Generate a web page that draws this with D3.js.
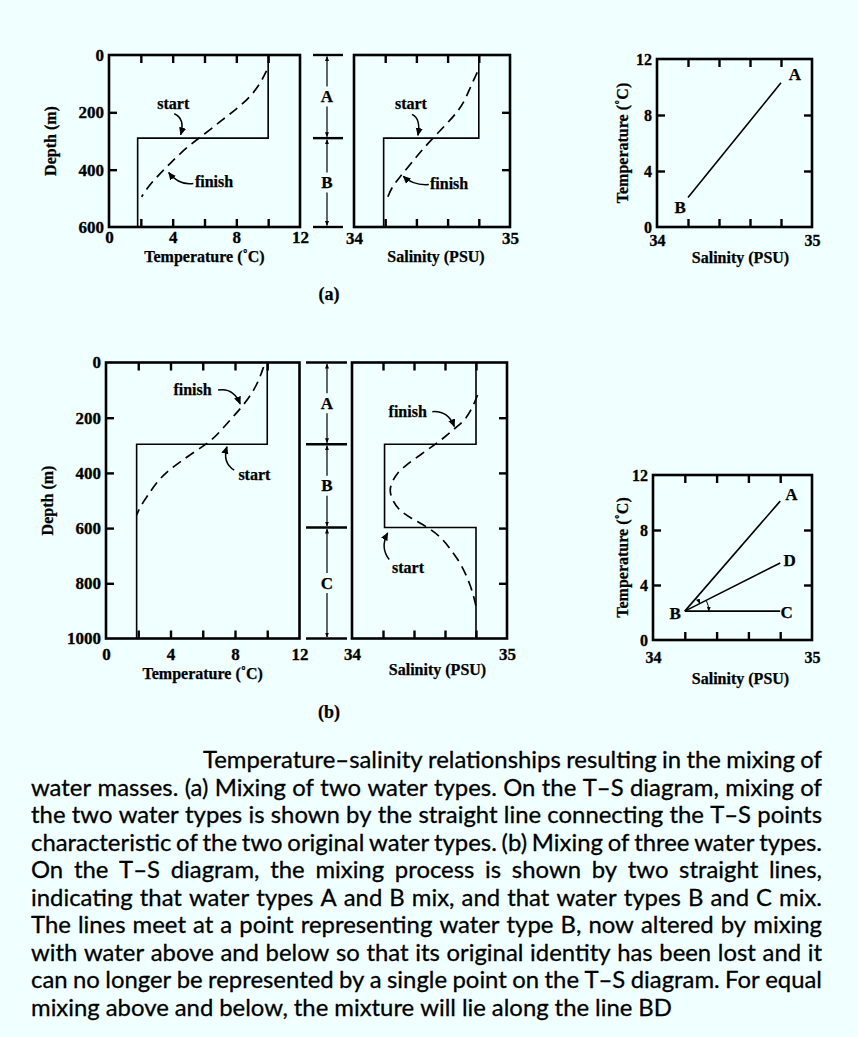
<!DOCTYPE html>
<html><head><meta charset="utf-8">
<script src="https://cdn.jsdelivr.net/npm/d3@7"></script>
<style>html,body{margin:0;padding:0;background:#f0ffff;} svg{display:block}</style>
</head><body><script>
// ---------------- DATA ----------------
const tempMinorTicks = [2, 4, 6, 8, 10];
const tempTickLabels = [0, 4, 8, 12];
const salMinorTicks = [34.2, 34.4, 34.6, 34.8];
const salTickLabels = [34, 35];
const depthTickLabelsA = [0, 200, 400, 600];
const depthMinorTicksA = [200, 400];
const depthTickLabelsB = [0, 200, 400, 600, 800, 1000];
const depthMinorTicksB = [200, 400, 600, 800];
const tsTempTickLabels = [0, 4, 8, 12];
const tsTempMinorTicks = [4, 8];

// (a) profiles: d = depth (m), v = value
const startTempA = [{d:0,v:10},{d:290,v:10},{d:290,v:1.8},{d:600,v:1.8}];
const finishTempA = [{d:55,v:9.9},{d:101,v:9.49},{d:147,v:8.86},{d:188,v:8.02},{d:228,v:7.08},{d:275,v:6.03},{d:321,v:4.88},{d:379,v:3.83},{d:425,v:3.0},{d:466,v:2.37},{d:495,v:2.05}];
const startSalA = [{d:0,v:34.8},{d:290,v:34.8},{d:290,v:34.19},{d:600,v:34.19}];
const finishSalA = [{d:61,v:34.79},{d:107,v:34.75},{d:160,v:34.71},{d:201,v:34.66},{d:242,v:34.59},{d:288,v:34.51},{d:335,v:34.43},{d:382,v:34.36},{d:428,v:34.29},{d:463,v:34.24},{d:504,v:34.21}];
const layersA = [{name:"A",top:0,bottom:290},{name:"B",top:290,bottom:600}];
const tsLineA = [{s:34.2,t:2.1},{s:34.8,t:10.3}];
const tsLabelsA = [{name:"A",s:34.89,t:10.5},{name:"B",s:34.15,t:1.0}];

// (b) profiles
const startTempB = [{d:0,v:10},{d:296,v:10},{d:296,v:1.9},{d:1000,v:1.9}];
const finishTempB = [{d:16,v:9.77},{d:52,v:9.56},{d:100,v:9.19},{d:155,v:8.52},{d:195,v:7.9},{d:243,v:7.18},{d:282,v:6.56},{d:318,v:5.63},{d:360,v:4.59},{d:396,v:3.77},{d:433,v:3.15},{d:487,v:2.53},{d:523,v:2.11},{d:553,v:1.9}];
const startSalB = [{d:0,v:34.8},{d:296,v:34.8},{d:296,v:34.21},{d:598,v:34.21},{d:598,v:34.8},{d:1000,v:34.8}];
const finishSalB = [{d:118,v:34.81},{d:160,v:34.78},{d:209,v:34.73},{d:235,v:34.67},{d:270,v:34.60},{d:299,v:34.53},{d:335,v:34.44},{d:371,v:34.35},{d:401,v:34.29},{d:431,v:34.26},{d:462,v:34.24},{d:498,v:34.26},{d:534,v:34.30},{d:564,v:34.38},{d:594,v:34.48},{d:630,v:34.57},{d:672,v:34.63},{d:726,v:34.70},{d:787,v:34.75},{d:835,v:34.78},{d:883,v:34.80}];
const layersB = [{name:"A",top:0,bottom:296},{name:"B",top:296,bottom:598},{name:"C",top:598,bottom:1000}];
const tsPointsB = {A:{s:34.8,t:10.1}, B:{s:34.2,t:2.1}, C:{s:34.8,t:2.1}, D:{s:34.8,t:5.6}};
const tsSegmentsB = [["B","A"],["B","D"],["B","C"]];
const tsLabelsB = [{name:"A",s:34.87,t:10.2},{name:"D",s:34.86,t:5.4},{name:"C",s:34.84,t:1.58},{name:"B",s:34.14,t:1.5}];

// annotations (data units of each panel): label + curved arrow (from, ctrl, to)
const annTempA = [
  {text:"start", anchor:"middle", v:4.04, d:187, from:{v:4.1,d:205}, ctrl:{v:4.8,d:222}, to:{v:4.5,d:278}},
  {text:"finish", anchor:"start", v:5.4, d:460, from:{v:5.3,d:448}, ctrl:{v:4.4,d:456}, to:{v:3.75,d:410}}
];
const annSalA = [
  {text:"start", anchor:"middle", v:34.365, d:189, from:{v:34.372,d:207}, ctrl:{v:34.43,d:222}, to:{v:34.41,d:280}},
  {text:"finish", anchor:"start", v:34.487, d:469, from:{v:34.48,d:452}, ctrl:{v:34.38,d:456}, to:{v:34.316,d:423}}
];
const annTempB = [
  {text:"finish", anchor:"start", v:4.18, d:118, from:{v:6.95,d:100}, ctrl:{v:7.9,d:90}, to:{v:8.32,d:150}},
  {text:"start", anchor:"start", v:8.21, d:426, from:{v:7.95,d:390}, ctrl:{v:7.2,d:362}, to:{v:7.5,d:305}}
];
const annSalB = [
  {text:"finish", anchor:"start", v:34.236, d:197, from:{v:34.518,d:178}, ctrl:{v:34.62,d:174}, to:{v:34.66,d:232}},
  {text:"start", anchor:"start", v:34.258, d:763, from:{v:34.24,d:714}, ctrl:{v:34.18,d:670}, to:{v:34.23,d:618}}
];

const captionLines = [
  "Temperature\u2013salinity relationships resulting in the mixing of",
  "water masses. (a) Mixing of two water types. On the T\u2013S diagram, mixing of",
  "the two water types is shown by the straight line connecting the T\u2013S points",
  "characteristic of the two original water types. (b) Mixing of three water types.",
  "On the T\u2013S diagram, the mixing process is shown by two straight lines,",
  "indicating that water types A and B mix, and that water types B and C mix.",
  "The lines meet at a point representing water type B, now altered by mixing",
  "with water above and below so that its original identity has been lost and it",
  "can no longer be represented by a single point on the T\u2013S diagram. For equal",
  "mixing above and below, the mixture will lie along the line BD"
];

// ---------------- LAYOUT ----------------
const W = 858, H = 1037;
const SERIF = "'Liberation Serif','Times New Roman',serif";
const svg = d3.select("body").append("svg").attr("width", W).attr("height", H);
svg.append("rect").attr("width", W).attr("height", H).attr("fill", "#f0ffff");

const defs = svg.append("defs");
defs.append("marker").attr("id","ah").attr("viewBox","0 0 10 10").attr("refX",9).attr("refY",5)
  .attr("markerWidth",8).attr("markerHeight",8).attr("markerUnits","userSpaceOnUse").attr("orient","auto")
  .append("path").attr("d","M0,0.5 L10,5 L0,9.5 Z").attr("fill","#000");
defs.append("marker").attr("id","ahs").attr("viewBox","0 0 10 10").attr("refX",9).attr("refY",5)
  .attr("markerWidth",5).attr("markerHeight",6).attr("markerUnits","userSpaceOnUse").attr("orient","auto")
  .append("path").attr("d","M0,1 L10,5 L0,9 Z").attr("fill","#000");

function styleAxis(g, size) {
  g.select(".domain").remove();
  g.attr("font-family", SERIF).attr("font-size", size).attr("font-weight", "bold");
  g.selectAll(".tick line").attr("stroke","#000").attr("stroke-width",2.4);
  g.selectAll(".tick text").attr("fill","#000").attr("stroke","#000").attr("stroke-width",0.3);
}
function serifText(sel, size) {
  return sel.attr("font-family",SERIF).attr("font-size",size).attr("font-weight","bold")
    .attr("fill","#000").attr("stroke","#000").attr("stroke-width",0.25);
}

function frame(box, xs, ys, spec) {
  const g = svg.append("g");
  const fsz = spec.labelSize || 17;
  g.append("rect").attr("x",box.l).attr("y",box.t).attr("width",box.r-box.l).attr("height",box.b-box.t)
    .attr("fill","none").attr("stroke","#000").attr("stroke-width",2.6);
  const tl = 8;
  g.append("g").attr("transform",`translate(0,${box.b})`)
    .call(d3.axisBottom(xs).tickValues(spec.xMinor).tickSizeInner(-tl).tickSizeOuter(0).tickFormat(""))
    .call(a=>styleAxis(a,fsz));
  g.append("g").attr("transform",`translate(0,${box.t})`)
    .call(d3.axisTop(xs).tickValues(spec.xMinor).tickSizeInner(-tl).tickSizeOuter(0).tickFormat(""))
    .call(a=>styleAxis(a,fsz));
  if (spec.yMinorLeft) g.append("g").attr("transform",`translate(${box.l},0)`)
    .call(d3.axisLeft(ys).tickValues(spec.yMinorLeft).tickSizeInner(-tl).tickSizeOuter(0).tickFormat(""))
    .call(a=>styleAxis(a,fsz));
  if (spec.yMinorRight) g.append("g").attr("transform",`translate(${box.r},0)`)
    .call(d3.axisRight(ys).tickValues(spec.yMinorRight).tickSizeInner(-tl).tickSizeOuter(0).tickFormat(""))
    .call(a=>styleAxis(a,fsz));
  // labels
  g.append("g").attr("transform",`translate(0,${box.b})`)
    .call(d3.axisBottom(xs).tickValues(spec.xLabels).tickSize(0).tickPadding(spec.xPad).tickFormat(d3.format("d")))
    .call(a=>styleAxis(a,fsz));
  if (spec.yLabels) g.append("g").attr("transform",`translate(${box.l},0)`)
    .call(d3.axisLeft(ys).tickValues(spec.yLabels).tickSize(0).tickPadding(5).tickFormat(d3.format("d")))
    .call(a=>styleAxis(a,fsz));
  // titles
  serifText(g.append("text"), 16).attr("x",(box.l+box.r)/2 + (spec.xTitleDx||0)).attr("y",spec.xTitleY)
    .attr("text-anchor","middle").text(spec.xTitle);
  if (spec.yTitle) serifText(g.append("text"), 16)
    .attr("transform",`translate(${spec.yTitleX},${(box.t+box.b)/2}) rotate(-90)`)
    .attr("text-anchor","middle").attr("dominant-baseline","central").text(spec.yTitle);
  return g;
}

function profile(g, data, xs, ys, dashed) {
  const line = d3.line().x(p=>xs(p.v)).y(p=>ys(p.d)).curve(dashed ? d3.curveBasis : d3.curveLinear);
  g.append("path").attr("d", line(data)).attr("fill","none").attr("stroke","#000")
    .attr("stroke-width", dashed ? 1.7 : 1.6)
    .attr("stroke-dasharray", dashed ? "10,6" : null);
}

function annotate(g, anns, xs, ys) {
  anns.forEach(a => {
    serifText(g.append("text"), 16).attr("x", xs(a.v)).attr("y", ys(a.d)).attr("text-anchor", a.anchor).text(a.text);
    const p = d3.path();
    p.moveTo(xs(a.from.v), ys(a.from.d));
    p.quadraticCurveTo(xs(a.ctrl.v), ys(a.ctrl.d), xs(a.to.v), ys(a.to.d));
    g.append("path").attr("d", p.toString()).attr("fill","none").attr("stroke","#000")
      .attr("stroke-width",1.5).attr("marker-end","url(#ah)");
  });
}

function layerColumn(layers, ys, xl, xr, xArrow) {
  const g = svg.append("g");
  const bounds = Array.from(new Set(layers.flatMap(l=>[l.top,l.bottom])));
  g.selectAll("line.b").data(bounds).join("line").attr("x1",xl).attr("x2",xr)
    .attr("y1",d=>ys(d)).attr("y2",d=>ys(d)).attr("stroke","#000").attr("stroke-width",2.4);
  layers.forEach(l => {
    const y0 = ys(l.top), y1 = ys(l.bottom), ym = (y0+y1)/2;
    serifText(g.append("text"), 17).attr("x",xArrow).attr("y",ym).attr("text-anchor","middle")
      .attr("dominant-baseline","central").text(l.name);
    g.append("line").attr("x1",xArrow).attr("x2",xArrow).attr("y1",ym-10).attr("y2",y0+1.5)
      .attr("stroke","#000").attr("stroke-width",1.2).attr("marker-end","url(#ahs)");
    g.append("line").attr("x1",xArrow).attr("x2",xArrow).attr("y1",ym+10).attr("y2",y1-1.5)
      .attr("stroke","#000").attr("stroke-width",1.2).attr("marker-end","url(#ahs)");
  });
}

// ---------- (a) ----------
const boxTA = {l:109, r:300, t:55, b:227};
const xTA = d3.scaleLinear().domain([0,12]).range([boxTA.l, boxTA.r]);
const yTA = d3.scaleLinear().domain([0,600]).range([boxTA.t, boxTA.b]);
const gTA = frame(boxTA, xTA, yTA, {xMinor:tempMinorTicks, xLabels:tempTickLabels, xPad:4,
  yMinorLeft:depthMinorTicksA, yLabels:depthTickLabelsA, xTitle:"Temperature (\u02DAC)", xTitleY:262,
  yTitle:"Depth (m)", yTitleX:boxTA.l-59});
profile(gTA, startTempA, xTA, yTA, false);
profile(gTA, finishTempA, xTA, yTA, true);
annotate(gTA, annTempA, xTA, yTA);

layerColumn(layersA, yTA, 313, 343, 327);

const boxSA = {l:354, r:510, t:55, b:227};
const xSA = d3.scaleLinear().domain([34,35]).range([boxSA.l, boxSA.r]);
const ySA = d3.scaleLinear().domain([0,600]).range([boxSA.t, boxSA.b]);
const gSA = frame(boxSA, xSA, ySA, {xMinor:salMinorTicks, xLabels:salTickLabels, xPad:5,
  yMinorRight:depthMinorTicksA, xTitle:"Salinity (PSU)", xTitleY:262, xTitleDx:4});
profile(gSA, startSalA, xSA, ySA, false);
profile(gSA, finishSalA, xSA, ySA, true);
annotate(gSA, annSalA, xSA, ySA);

const boxTSA = {l:657, r:812, t:59, b:227};
const xTSA = d3.scaleLinear().domain([34,35]).range([boxTSA.l, boxTSA.r]);
const yTSA = d3.scaleLinear().domain([0,12]).range([boxTSA.b, boxTSA.t]);
const gTSA = frame(boxTSA, xTSA, yTSA, {xMinor:salMinorTicks, xLabels:salTickLabels, xPad:8, labelSize:16,
  yMinorLeft:tsTempMinorTicks, yMinorRight:tsTempMinorTicks, yLabels:tsTempTickLabels,
  xTitle:"Salinity (PSU)", xTitleY:263, xTitleDx:6, yTitle:"Temperature (\u02DAC)", yTitleX:boxTSA.l-35});
gTSA.append("path").attr("d", d3.line().x(p=>xTSA(p.s)).y(p=>yTSA(p.t))(tsLineA))
  .attr("stroke","#000").attr("stroke-width",1.6).attr("fill","none");
tsLabelsA.forEach(d => serifText(gTSA.append("text"), 17).attr("x",xTSA(d.s)).attr("y",yTSA(d.t))
  .attr("text-anchor","middle").text(d.name));

serifText(svg.append("text"), 18).attr("x",329).attr("y",300).attr("text-anchor","middle").text("(a)");

// ---------- (b) ----------
const boxTB = {l:106, r:299.5, t:362.5, b:638.5};
const xTB = d3.scaleLinear().domain([0,12]).range([boxTB.l, boxTB.r]);
const yTB = d3.scaleLinear().domain([0,1000]).range([boxTB.t, boxTB.b]);
const gTB = frame(boxTB, xTB, yTB, {xMinor:tempMinorTicks, xLabels:tempTickLabels, xPad:9,
  yMinorLeft:depthMinorTicksB, yLabels:depthTickLabelsB, xTitle:"Temperature (\u02DAC)", xTitleY:679,
  yTitle:"Depth (m)", yTitleX:boxTB.l-59});
profile(gTB, startTempB, xTB, yTB, false);
profile(gTB, finishTempB, xTB, yTB, true);
annotate(gTB, annTempB, xTB, yTB);

layerColumn(layersB, yTB, 306, 347, 327);

const boxSB = {l:352, r:507, t:362.5, b:638.5};
const xSB = d3.scaleLinear().domain([34,35]).range([boxSB.l, boxSB.r]);
const ySB = d3.scaleLinear().domain([0,1000]).range([boxSB.t, boxSB.b]);
const gSB = frame(boxSB, xSB, ySB, {xMinor:salMinorTicks, xLabels:salTickLabels, xPad:9,
  yMinorRight:depthMinorTicksB, xTitle:"Salinity (PSU)", xTitleY:675, xTitleDx:8});
profile(gSB, startSalB, xSB, ySB, false);
profile(gSB, finishSalB, xSB, ySB, true);
annotate(gSB, annSalB, xSB, ySB);

const boxTSB = {l:653, r:812, t:475, b:640};
const xTSB = d3.scaleLinear().domain([34,35]).range([boxTSB.l, boxTSB.r]);
const yTSB = d3.scaleLinear().domain([0,12]).range([boxTSB.b, boxTSB.t]);
const gTSB = frame(boxTSB, xTSB, yTSB, {xMinor:salMinorTicks, xLabels:salTickLabels, xPad:12, labelSize:16,
  yMinorLeft:tsTempMinorTicks, yMinorRight:tsTempMinorTicks, yLabels:tsTempTickLabels,
  xTitle:"Salinity (PSU)", xTitleY:684, xTitleDx:8, yTitle:"Temperature (\u02DAC)", yTitleX:boxTSB.l-31});
tsSegmentsB.forEach(([a,b]) => {
  gTSB.append("line").attr("x1",xTSB(tsPointsB[a].s)).attr("y1",yTSB(tsPointsB[a].t))
    .attr("x2",xTSB(tsPointsB[b].s)).attr("y2",yTSB(tsPointsB[b].t)).attr("stroke","#000").attr("stroke-width",1.6);
});
tsLabelsB.forEach(d => serifText(gTSB.append("text"), 17).attr("x",xTSB(d.s)).attr("y",yTSB(d.t))
  .attr("text-anchor","middle").text(d.name));
// small rotation arcs around B
(function(){
  const B = tsPointsB.B;
  const bx = xTSB(B.s), by = yTSB(B.t);
  const ang = k => Math.atan2(yTSB(tsPointsB[k].t)-by, xTSB(tsPointsB[k].s)-bx);
  [[ "A","D",17],["D","C",24]].forEach(([k1,k2,r]) => {
    const a1 = ang(k1), a2 = ang(k2);
    const p = d3.path();
    p.moveTo(bx + r*Math.cos(a1), by + r*Math.sin(a1));
    p.arc(bx, by, r, a1, a2, false);
    gTSB.append("path").attr("d", p.toString()).attr("fill","none").attr("stroke","#000")
      .attr("stroke-width",1).attr("marker-end","url(#ahs)");
  });
})();

serifText(svg.append("text"), 18).attr("x",329).attr("y",718).attr("text-anchor","middle").text("(b)");

// ---------- caption ----------
const SANS = "Lato,'Open Sans',sans-serif";
const cap = svg.append("g").attr("font-family",SANS).attr("fill","#000").attr("stroke","#000").attr("stroke-width",0.3);
const capLeft = 31, capRight = 822, firstIndent = 203, capBase = 768, lineGap = 27.55;
const meas = cap.append("text").attr("font-size",20).attr("x",-1000).attr("y",-1000);
function wordsWidth(line){ return d3.sum(line.split(" "), w => { meas.text(w); return meas.node().getComputedTextLength(); }); }
let capFs = 100;
captionLines.forEach((ln,i) => {
  if (i === captionLines.length-1) return;
  const n = ln.split(" ").length;
  const target = (i===0 ? capRight-firstIndent : capRight-capLeft);
  capFs = Math.min(capFs, target / (wordsWidth(ln)/20 + 0.2*(n-1)));
});
meas.remove();
cap.attr("font-size", capFs.toFixed(2));
captionLines.forEach((ln,i) => {
  const words = ln.split(" ");
  const y = capBase + i*lineGap;
  const x0 = i===0 ? firstIndent : capLeft;
  const nodes = words.map(w => cap.append("text").attr("y", y).text(w));
  const widths = nodes.map(n => n.node().getComputedTextLength());
  const last = i === captionLines.length-1;
  const gap = last ? capFs*0.25 : (capRight - x0 - d3.sum(widths)) / (words.length-1);
  let x = x0;
  nodes.forEach((n,k) => { n.attr("x", x); x += widths[k] + gap; });
});
</script></body></html>
